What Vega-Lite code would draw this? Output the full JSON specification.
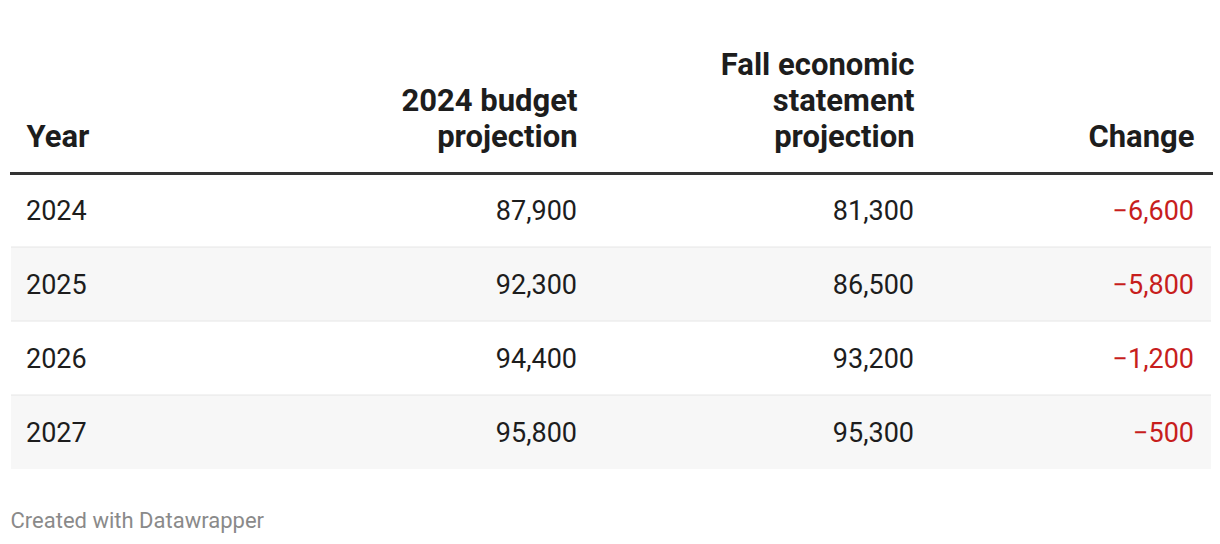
{
  "$schema": "https://vega.github.io/schema/vega-lite/v6.json",
  "padding": {"left": 10, "right": 10, "top": 49, "bottom": 10},
  "background": "white",
  "spacing": 0,
  "bounds": "flush",
  "title": {"text": "Created with Datawrapper", "orient": "bottom", "anchor": "start", "font": "Roboto", "fontSize": 22, "fontWeight": "normal", "color": "#8a8a8a", "offset": 42},
  "data": {"values": [
    {"Year": 2024, "budget": 87900, "fall": 81300, "change": -6600},
    {"Year": 2025, "budget": 92300, "fall": 86500, "change": -5800},
    {"Year": 2026, "budget": 94400, "fall": 93200, "change": -1200},
    {"Year": 2027, "budget": 95800, "fall": 95300, "change": -500}
  ]},
  "hconcat": [
    {
      "width": 300, "height": 296,
      "layer": [
        {"transform": [{"filter": "datum.Year == 2025 || datum.Year == 2027"}], "mark": {"type": "rect", "color": "#f7f7f7"}, "encoding": {"y": {"field": "Year", "type": "ordinal", "axis": null, "scale": {"paddingInner": 0, "paddingOuter": 0}}}},
        {"transform": [{"filter": "datum.Year > 2024"}], "mark": {"type": "rule", "color": "#e6e6e6", "strokeWidth": 1}, "encoding": {"y": {"field": "Year", "type": "ordinal", "bandPosition": 0, "axis": null}}},
        {"mark": {"type": "text", "align": "left", "baseline": "middle", "dy": 2, "font": "Roboto", "fontSize": 27, "color": "#1d1d1d"},
         "encoding": {
           "x": {"datum": "Year", "type": "nominal", "scale": {"type": "point", "padding": 0, "align": 0.05}, "axis": {"labelAlign": "left", "labelPadding": 20, "labelExpr": "['Year']"}},
           "y": {"field": "Year", "type": "ordinal", "axis": null},
           "text": {"field": "Year", "type": "ordinal"}
         }}
      ]
    },
    {
      "width": 283, "height": 296,
      "layer": [
        {"transform": [{"filter": "datum.Year == 2025 || datum.Year == 2027"}], "mark": {"type": "rect", "color": "#f7f7f7"}, "encoding": {"y": {"field": "Year", "type": "ordinal", "axis": null, "scale": {"paddingInner": 0, "paddingOuter": 0}}}},
        {"transform": [{"filter": "datum.Year > 2024"}], "mark": {"type": "rule", "color": "#e6e6e6", "strokeWidth": 1}, "encoding": {"y": {"field": "Year", "type": "ordinal", "bandPosition": 0, "axis": null}}},
        {"mark": {"type": "text", "align": "right", "baseline": "middle", "dy": 2, "font": "Roboto", "fontSize": 27, "color": "#1d1d1d"},
         "encoding": {
           "x": {"datum": "2024 budget projection", "type": "nominal", "scale": {"type": "point", "padding": 0, "align": 0.94}, "axis": {"labelAlign": "right", "labelPadding": 56, "labelExpr": "['2024 budget', 'projection']"}},
           "y": {"field": "Year", "type": "ordinal", "axis": null},
           "text": {"field": "budget", "type": "quantitative", "format": ","}
         }}
      ]
    },
    {
      "width": 337, "height": 296,
      "layer": [
        {"transform": [{"filter": "datum.Year == 2025 || datum.Year == 2027"}], "mark": {"type": "rect", "color": "#f7f7f7"}, "encoding": {"y": {"field": "Year", "type": "ordinal", "axis": null, "scale": {"paddingInner": 0, "paddingOuter": 0}}}},
        {"transform": [{"filter": "datum.Year > 2024"}], "mark": {"type": "rule", "color": "#e6e6e6", "strokeWidth": 1}, "encoding": {"y": {"field": "Year", "type": "ordinal", "bandPosition": 0, "axis": null}}},
        {"mark": {"type": "text", "align": "right", "baseline": "middle", "dy": 2, "font": "Roboto", "fontSize": 27, "color": "#1d1d1d"},
         "encoding": {
           "x": {"datum": "Fall economic statement projection", "type": "nominal", "scale": {"type": "point", "padding": 0, "align": 0.9496}, "axis": {"labelAlign": "right", "labelPadding": 92, "labelExpr": "['Fall economic', 'statement', 'projection']"}},
           "y": {"field": "Year", "type": "ordinal", "axis": null},
           "text": {"field": "fall", "type": "quantitative", "format": ","}
         }}
      ]
    },
    {
      "width": 280, "height": 296,
      "layer": [
        {"transform": [{"filter": "datum.Year == 2025 || datum.Year == 2027"}], "mark": {"type": "rect", "color": "#f7f7f7"}, "encoding": {"y": {"field": "Year", "type": "ordinal", "axis": null, "scale": {"paddingInner": 0, "paddingOuter": 0}}}},
        {"transform": [{"filter": "datum.Year > 2024"}], "mark": {"type": "rule", "color": "#e6e6e6", "strokeWidth": 1}, "encoding": {"y": {"field": "Year", "type": "ordinal", "bandPosition": 0, "axis": null}}},
        {"mark": {"type": "text", "align": "right", "baseline": "middle", "dy": 2, "font": "Roboto", "fontSize": 27, "color": "#c71e1d"},
         "encoding": {
           "x": {"datum": "Change", "type": "nominal", "scale": {"type": "point", "padding": 0, "align": 0.9393}, "axis": {"labelAlign": "right", "labelPadding": 20, "labelExpr": "['Change']"}},
           "y": {"field": "Year", "type": "ordinal", "axis": null},
           "text": {"field": "change", "type": "quantitative", "format": ","}
         }}
      ]
    }
  ],
  "config": {
    "view": {"stroke": null},
    "axisX": {
      "orient": "top", "title": null, "domain": true, "domainColor": "#333333", "domainWidth": 3, "domainCap": "square",
      "ticks": false, "grid": false, "labelAngle": 0, "labelBaseline": "bottom",
      "labelFont": "Roboto", "labelFontSize": 31, "labelFontWeight": "bold", "labelColor": "#1d1d1d",
      "labelLineHeight": 36, "labelOverlap": false, "labelBound": false, "labelFlush": false, "labelLimit": 0
    }
  }
}
